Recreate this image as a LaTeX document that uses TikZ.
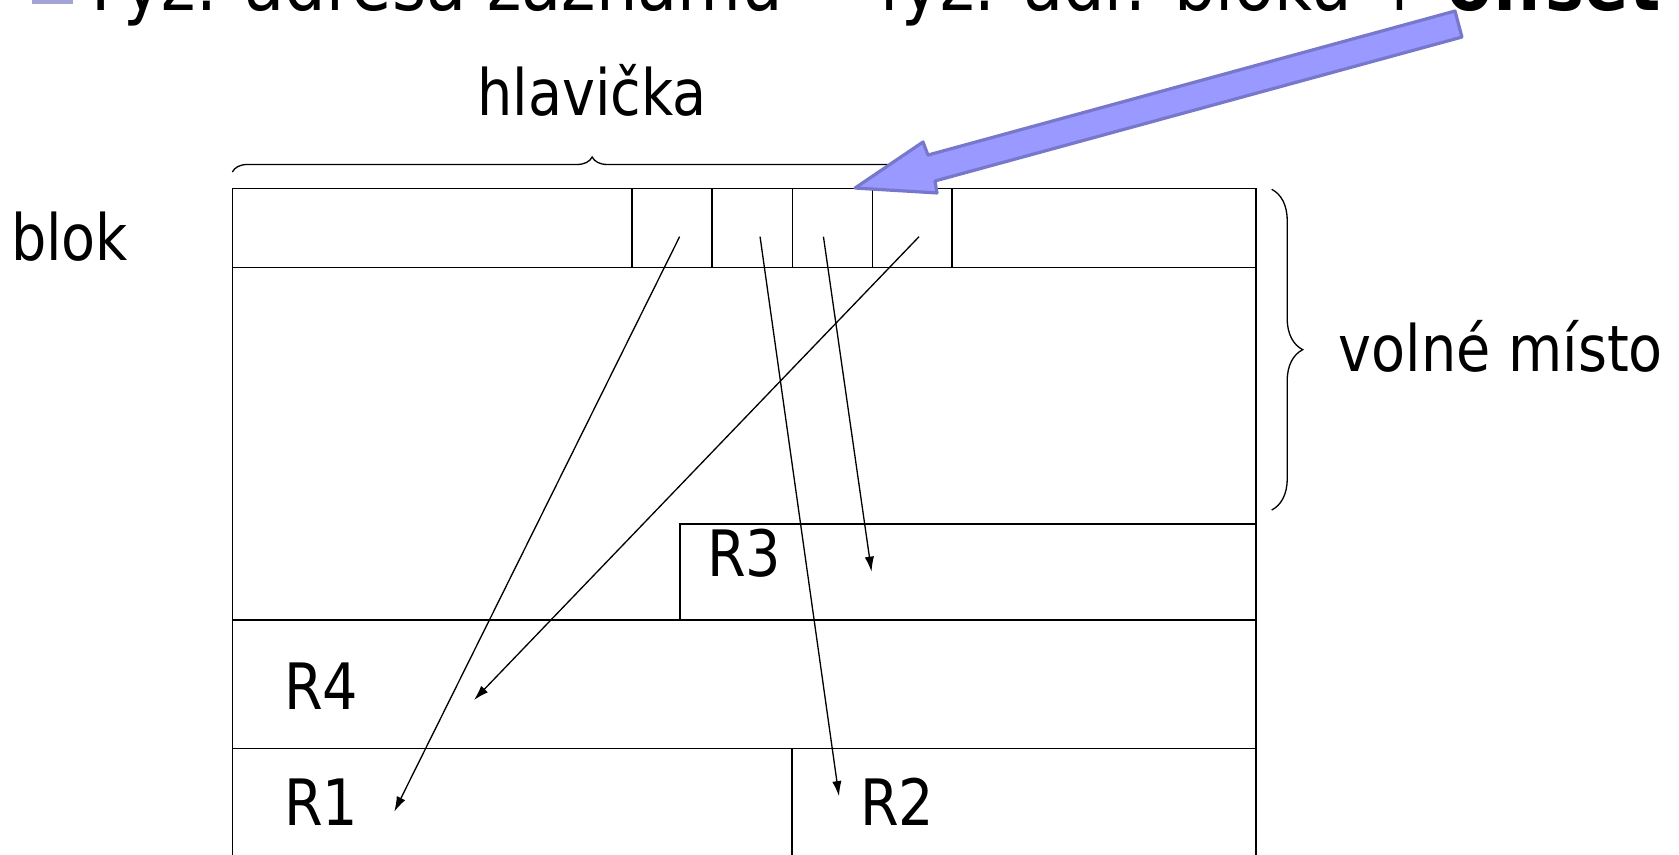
\documentclass[tikz,border=0pt]{standalone}
\usepackage{fontspec}
\setmainfont{DejaVu Sans}[FakeStretch=0.87]
\usetikzlibrary{arrows.meta,decorations.pathreplacing}
\definecolor{CalloutFill}{HTML}{9999FF}
\definecolor{CalloutEdge}{HTML}{7777CC}
\definecolor{BulletInk}{HTML}{A3A3D6}
\tikzset{
  diagram/.style={x=0.02cm,y=-0.02cm},
  frame/.style={draw=black,line width=0.8pt},
  word/.style={font=\fontsize{34}{40}\selectfont,inner sep=0pt,anchor=base west},
  headline/.style={font=\fontsize{40}{46}\selectfont,inner sep=0pt,anchor=base west},
  pointer/.style={-{Latex[length=8pt,width=5pt]},line width=0.7pt},
  bracket/.style={decorate,decoration={brace,amplitude=#1},line width=0.7pt},
  callout/.style={fill=CalloutFill,draw=CalloutEdge,line width=1.7pt,line join=round},
}

\begin{document}
\begin{tikzpicture}[diagram]
  \clip (0,0) rectangle (1568,798);

  % title line, cut off by the top edge
  \fill[BulletInk] (30,-34) rectangle (68,3.7);
  \node[headline] (title) at (85,10) {Fyz. adresa záznamu = fyz. adr. bloku + \textbf{offset}};

  % block with header and records
  \draw[frame] (217,176) rectangle (1173,830);
  \draw[frame] (217,250) -- (1173,250);
  \foreach \x in {590,665,740,815,889}
    \draw[frame] (\x,176) -- (\x,250);
  \draw[frame] (635,579) |- (1173,489.4);
  \draw[frame] (217,579) -- (1173,579);
  \draw[frame] (217,699) -- (1173,699);
  \draw[frame] (739.6,699) -- (739.6,830);

  \node[word] (blok) at (10,243) {blok};
  \node[word,anchor=base] (hlavicka) at (553,107.4) {hlavička};
  \node[word] (volne) at (1250,347) {volné místo};
  \node[word] (r3) at (660,538.5) {R3};
  \node[word] (r4) at (265,663) {R4};
  \node[word] (r1) at (265,770.5) {R1};
  \node[word] (r2) at (803,770.5) {R2};

  % braces
  \draw[bracket=0.28cm] (217,160.6) -- (889,160.6);
  \draw[bracket=0.58cm] (1187.6,176.8) -- (1187.6,476.3);

  % offsets in the header point at the records
  \coordinate (s1) at (634.7,221);
  \coordinate (s2) at (709.8,221);
  \coordinate (s3) at (769,221);
  \coordinate (s4) at (858.3,221);
  \coordinate (e1) at (368.2,758);
  \coordinate (e2) at (783.5,743.5);
  \coordinate (e3) at (813.9,533.9);
  \coordinate (e4) at (442.7,653.7);
  \draw[pointer] (s1) -- (e1);
  \draw[pointer] (s2) -- (e2);
  \draw[pointer] (s3) -- (e3);
  \draw[pointer] (s4) -- (e4);

  % callout arrow
  \draw[callout] (798.5,175.6) -- (862,132.6) -- (866.6,144.8) -- (1358.8,10.3)
    -- (1365.3,34.6) -- (873.2,169) -- (875,180.2) -- cycle;
\end{tikzpicture}
\end{document}
